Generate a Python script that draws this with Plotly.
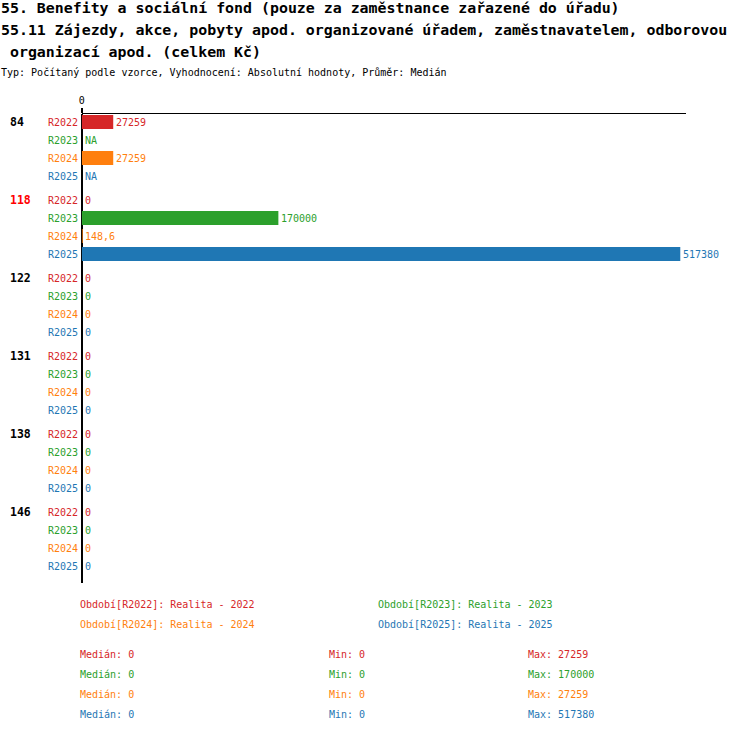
import plotly.graph_objects as go
import statistics

categories = ["84", "118", "122", "131", "138", "146"]
series_names = ["R2022", "R2023", "R2024", "R2025"]
series_colors = ["#d62728", "#2ca02c", "#ff7f0e", "#1f77b4"]
legend_labels = ["Období[R2022]: Realita - 2022", "Období[R2023]: Realita - 2023",
                 "Období[R2024]: Realita - 2024", "Období[R2025]: Realita - 2025"]
category_colors = ["#000000", "#ff0000", "#000000", "#000000", "#000000", "#000000"]

r2022 = [27259, 0, 0, 0, 0, 0]
r2023 = [None, 170000, 0, 0, 0, 0]
r2024 = [27259, 148.6, 0, 0, 0, 0]
r2025 = [None, 517380, 0, 0, 0, 0]
series_values = [r2022, r2023, r2024, r2025]

title_lines = [
    "55. Benefity a sociální fond (pouze za zaměstnance zařazené do úřadu)",
    "55.11 Zájezdy, akce, pobyty apod. organizované úřadem, zaměstnavatelem, odborovou",
    " organizací apod. (celkem Kč)",
]
subtitle = "Typ: Počítaný podle vzorce, Vyhodnocení: Absolutní hodnoty, Průměr: Medián"

W, H = 750, 732
MONO = "DejaVu Sans Mono"
LSHIFT = -5  # compensation for annotation box padding (left-anchored)

# layout geometry (pixels)
first_row = 122
row_pitch = 18
group_gap = 6
plot_top, plot_bottom = 114, 583
x_left, x_right = 79, 686
bar_span = 601  # pixels used by the largest value


def row_pos(g, s):
    return first_row + (g * len(series_names) + s) * row_pitch + g * group_gap


def fmt(v):
    if v is None:
        return "NA"
    if float(v).is_integer():
        return str(int(v))
    return str(v).replace(".", ",")


all_vals = [v for sv in series_values for v in sv if v is not None]
xmax = max(all_vals)

fig = go.Figure()
annotations = []

for s, (name, color, vals) in enumerate(zip(series_names, series_colors, series_values)):
    ys = [row_pos(g, s) for g in range(len(categories))]
    fig.add_trace(go.Bar(
        x=vals, y=ys, orientation="h", width=14,
        marker=dict(color=color, line=dict(width=0)),
        name=name, hoverinfo="skip", showlegend=False,
    ))
    for g, v in enumerate(vals):
        annotations.append(dict(
            x=v if v is not None else 0, y=ys[g], xref="x", yref="y",
            text=fmt(v), showarrow=False, xanchor="left", yanchor="middle",
            xshift=1, font=dict(family=MONO, size=10, color=color),
        ))
        annotations.append(dict(
            x=78 / W, y=ys[g], xref="paper", yref="y",
            text=name, showarrow=False, xanchor="right", yanchor="middle",
            xshift=-1, font=dict(family=MONO, size=10, color=color),
        ))

for g, cat in enumerate(categories):
    annotations.append(dict(
        x=10 / W, y=row_pos(g, 0), xref="paper", yref="y",
        text="<b>" + cat + "</b>", showarrow=False, xanchor="left", yanchor="middle",
        xshift=LSHIFT, font=dict(family=MONO, size=11.5, color=category_colors[g]),
    ))

# titles
for i, line in enumerate(title_lines):
    annotations.append(dict(
        x=0, y=1 - (8 + 22 * i) / H, xref="paper", yref="paper",
        text="<b>" + line.replace(" ", "&nbsp;") + "</b>", showarrow=False,
        xanchor="left", yanchor="middle", xshift=-4,
        font=dict(family=MONO, size=14.9, color="#000000"),
    ))
annotations.append(dict(
    x=0, y=1 - 73 / H, xref="paper", yref="paper", text=subtitle,
    showarrow=False, xanchor="left", yanchor="middle", xshift=-4,
    font=dict(family=MONO, size=10, color="#000000"),
))

# legend block
leg_pos = [(80, 604), (380, 604), (80, 624), (380, 624)]
for (lx, ly), lab, color in zip(leg_pos, legend_labels, series_colors):
    annotations.append(dict(
        x=lx / W, y=1 - ly / H, xref="paper", yref="paper", text=lab,
        showarrow=False, xanchor="left", yanchor="middle", xshift=LSHIFT,
        font=dict(family=MONO, size=10, color=color),
    ))

# statistics block
for s, (vals, color) in enumerate(zip(series_values, series_colors)):
    present = [v for v in vals if v is not None]
    med = statistics.median(present)
    stats = [("Medián: " + fmt(med), 80), ("Min: " + fmt(min(present)), 330),
             ("Max: " + fmt(max(present)), 530)]
    for txt, sx in stats:
        annotations.append(dict(
            x=sx / W, y=1 - (654 + 20 * s) / H, xref="paper", yref="paper", text=txt,
            showarrow=False, xanchor="left", yanchor="middle", xshift=LSHIFT,
            font=dict(family=MONO, size=10, color=color),
        ))

fig.update_layout(
    width=W, height=H,
    margin=dict(l=0, r=0, t=0, b=0),
    paper_bgcolor="white", plot_bgcolor="white",
    barmode="overlay",
    annotations=annotations,
    xaxis=dict(
        domain=[x_left / W, x_right / W],
        range=[0, xmax * (x_right - x_left) / bar_span],
        side="top", showline=True, linecolor="black", linewidth=1,
        tickvals=[0], ticktext=["0"], ticks="outside", ticklen=5, tickwidth=2,
        tickcolor="black", tickfont=dict(family=MONO, size=10, color="black"),
        showgrid=False, zeroline=True, zerolinecolor="black", zerolinewidth=2,
        fixedrange=True,
    ),
    yaxis=dict(
        domain=[1 - plot_bottom / H, 1 - plot_top / H],
        range=[plot_bottom, plot_top],
        visible=False, fixedrange=True,
    ),
)

fig.write_html("out.html", config={"displayModeBar": False},
               post_script="document.body.style.margin='0';document.body.style.overflow='hidden';")
